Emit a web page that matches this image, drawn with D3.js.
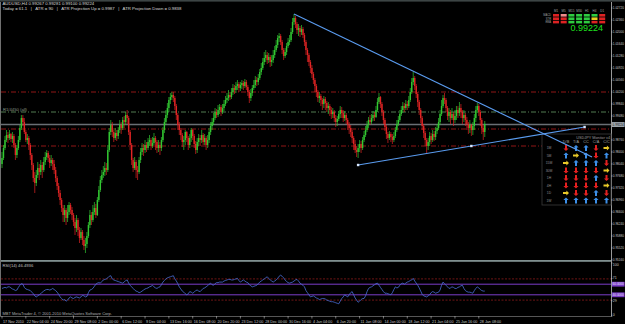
<!DOCTYPE html>
<html><head><meta charset="utf-8">
<script src="https://cdn.jsdelivr.net/npm/d3@7"></script>
<style>body{margin:0;background:#000}svg{display:block}</style>
</head><body>
<script>
// ---------- DATA (prices in 1/10000 units) ----------
const firstOpen = 9804;
const closePips = [
9822,9852,9876,9891,9882,9894,9879,9888,9861,9831,
9852,9876,9912,9942,9930,9900,9876,9882,9861,9831,
9801,9762,9747,9771,9792,9780,9801,9786,9810,9825,
9837,9822,9807,9816,9804,9786,9762,9738,9717,9696,
9672,9651,9666,9642,9660,9681,9666,9651,9630,9612,
9636,9606,9582,9600,9576,9558,9564,9588,9621,9651,
9636,9660,9672,9651,9696,9726,9756,9771,9780,9792,
9786,9846,9900,9921,9900,9882,9897,9888,9906,9921,
9912,9936,9930,9951,9942,9900,9861,9816,9792,9810,
9786,9780,9816,9840,9852,9846,9861,9852,9870,9876,
9858,9867,9882,9870,9852,9861,9852,9876,9906,9930,
9951,9972,9996,10005,10011,10002,9978,9951,9921,9906,
9891,9870,9876,9900,9882,9861,9882,9906,9888,9864,
9846,9870,9882,9876,9891,9870,9882,9861,9876,9900,
9918,9930,9942,9960,9951,9966,9975,9960,9972,9984,
9996,10002,10011,10005,10020,10032,10026,10038,10044,10032,
10041,10047,10038,10050,10035,10020,10002,10017,10032,10041,
10056,10050,10062,10080,10092,10110,10122,10131,10116,10125,
10110,10116,10131,10146,10161,10182,10188,10170,10146,10128,
10140,10158,10170,10176,10200,10230,10242,10224,10206,10212,
10200,10209,10191,10170,10146,10131,10110,10092,10074,10056,
10038,10020,10002,10008,9996,9984,9999,9987,9972,9978,
9966,9954,9960,9942,9930,9939,9954,9966,9957,9942,
9951,9936,9921,9912,9900,9882,9864,9846,9840,9852,
9864,9852,9876,9891,9906,9921,9936,9930,9942,9951,
9945,9966,9990,10005,9984,9960,9936,9915,9894,9882,
9894,9885,9876,9888,9906,9924,9936,9954,9966,9978,
9972,9984,9978,9996,10020,10050,10062,10038,10014,9990,
9966,9942,9918,9897,9876,9858,9870,9888,9876,9894,
9885,9903,9912,9930,9954,9978,10002,9996,9972,9948,
9960,9942,9954,9936,9948,9966,9957,9972,9960,9942,
9951,9936,9924,9912,9921,9906,9918,9942,9966,9978,
9960,9936,9912,9900,9924];
const highPips = [
9840,9861,9888,9906,9900,9906,9897,9900,9894,9867,
9861,9888,9921,9951,9951,9942,9906,9894,9888,9867,
9837,9807,9780,9786,9810,9804,9816,9810,9825,9840,
9846,9843,9831,9831,9822,9816,9795,9768,9747,9726,
9702,9681,9681,9672,9681,9690,9687,9675,9657,9642,
9651,9642,9615,9612,9606,9588,9582,9600,9630,9666,
9660,9681,9690,9684,9705,9738,9768,9786,9798,9810,
9807,9861,9912,9936,9930,9906,9912,9906,9915,9936,
9930,9945,9948,9960,9966,9948,9906,9867,9822,9825,
9816,9798,9825,9852,9867,9864,9876,9870,9882,9891,
9882,9885,9897,9888,9876,9876,9870,9885,9915,9942,
9966,9987,10005,10017,10020,10020,10008,9984,9957,9930,
9912,9897,9888,9906,9903,9888,9894,9912,9909,9894,
9873,9882,9894,9891,9906,9897,9894,9888,9891,9912,
9930,9942,9957,9972,9969,9981,9984,9981,9984,9996,
10008,10017,10026,10020,10032,10044,10041,10050,10056,10050,
10050,10056,10053,10059,10056,10041,10026,10029,10041,10056,
10068,10065,10074,10089,10107,10122,10140,10146,10140,10137,
10131,10131,10146,10158,10176,10191,10197,10194,10176,10152,
10152,10167,10182,10191,10212,10242,10254,10248,10230,10224,
10218,10221,10215,10197,10176,10152,10137,10116,10101,10080,
10062,10044,10026,10020,10014,10002,10008,10005,9993,9990,
9984,9975,9972,9966,9951,9948,9963,9978,9975,9966,
9963,9957,9942,9930,9921,9906,9888,9876,9858,9864,
9876,9873,9885,9903,9918,9933,9945,9951,9954,9963,
9960,9978,10002,10017,10008,9990,9966,9942,9921,9900,
9903,9900,9894,9900,9915,9936,9948,9966,9978,9990,
9987,9996,9993,10008,10032,10062,10080,10068,10044,10020,
9996,9972,9948,9924,9903,9882,9882,9900,9897,9906,
9903,9915,9924,9942,9966,9996,10011,10017,10002,9978,
9972,9966,9972,9960,9966,9978,9978,9990,9984,9966,
9966,9957,9945,9930,9936,9924,9930,9954,9978,9987,
9984,9966,9942,9921,9933];
const lowPips = [
9792,9816,9846,9870,9867,9876,9870,9867,9852,9816,
9822,9846,9870,9906,9918,9894,9870,9864,9846,9816,
9786,9750,9717,9738,9762,9756,9771,9762,9780,9801,
9816,9810,9792,9798,9786,9774,9750,9726,9705,9681,
9660,9630,9630,9621,9630,9651,9654,9636,9618,9591,
9600,9588,9567,9576,9561,9546,9537,9552,9582,9612,
9621,9630,9651,9642,9648,9690,9720,9747,9762,9768,
9771,9780,9840,9891,9885,9870,9876,9873,9879,9897,
9894,9906,9912,9921,9924,9891,9846,9801,9780,9786,
9762,9756,9774,9807,9831,9828,9837,9840,9846,9858,
9846,9852,9861,9846,9837,9840,9831,9843,9870,9897,
9921,9942,9960,9984,9996,9990,9966,9936,9906,9891,
9876,9855,9846,9861,9870,9846,9852,9870,9876,9852,
9834,9837,9858,9858,9867,9861,9861,9846,9852,9867,
9891,9906,9921,9936,9942,9945,9954,9948,9954,9963,
9978,9987,9993,9996,9999,10011,10014,10017,10026,10020,
10023,10029,10026,10032,10026,10008,9987,9993,10008,10026,
10032,10038,10041,10056,10071,10086,10101,10110,10104,10107,
10095,10098,10107,10122,10140,10152,10170,10161,10134,10116,
10122,10131,10152,10161,10170,10194,10221,10212,10194,10188,
10185,10191,10182,10158,10131,10110,10098,10077,10062,10044,
10020,10005,9990,9987,9978,9966,9972,9966,9960,9954,
9948,9939,9942,9930,9915,9918,9933,9942,9942,9930,
9933,9924,9906,9894,9885,9867,9846,9837,9825,9822,
9840,9837,9846,9870,9885,9900,9912,9921,9924,9933,
9933,9942,9960,9984,9972,9948,9924,9903,9879,9867,
9876,9870,9864,9870,9882,9900,9918,9930,9948,9957,
9960,9966,9966,9972,9990,10014,10041,10026,10002,9975,
9951,9927,9906,9882,9858,9837,9846,9858,9864,9870,
9873,9876,9894,9906,9921,9948,9972,9984,9960,9936,
9930,9924,9936,9918,9927,9936,9942,9948,9942,9924,
9930,9918,9906,9894,9897,9888,9891,9906,9930,9957,
9948,9918,9894,9876,9885];
const rsiValues = [
52,53,54,53,55,55,53,51,50,48,49,54,58,61,60,54,51,50,49,48,
45,42,38,36,38,40,42,45,47,49,50,50,49,50,52,50,48,45,41,36,
33,30,31,28,30,34,36,34,33,35,36,35,34,36,39,38,36,37,44,49,
50,52,56,60,62,63,62,65,68,69,70,72,75,76,70,68,67,66,65,64,
63,62,64,67,68,62,58,55,52,49,47,46,44,45,47,49,51,52,53,55,
56,58,55,53,52,54,55,59,64,67,70,72,73,74,75,76,70,66,61,55,
51,47,45,42,40,42,46,45,43,45,48,49,47,46,49,52,53,55,57,60,
62,59,58,61,63,63,64,64,64,66,67,68,69,69,68,68,69,70,71,67,
64,66,68,66,64,63,59,57,55,56,57,58,61,64,66,68,70,72,74,71,
68,66,64,66,68,71,75,77,75,72,68,65,63,62,63,64,66,68,69,66,
62,60,58,55,48,44,40,36,37,38,36,34,33,31,32,33,33,32,30,29,
28,27,27,26,25,24,23,28,33,36,40,38,36,40,44,46,40,34,30,26,
28,31,33,33,38,46,52,54,55,57,59,61,62,58,54,50,46,43,43,42,
41,40,44,50,55,53,54,58,61,62,60,62,64,65,67,68,71,66,62,58,
53,47,41,38,37,36,38,40,44,46,45,43,44,45,49,58,64,61,58,55,
52,53,55,54,52,52,54,55,57,58,52,48,46,45,45,44,43,48,52,55,
53,50,48,47,47];
const bidPrice = 0.99224;
const redLevels = [1.0020, 0.9909, 0.9858];
const greenLevel = 0.9960;
const upperTrend = [[196, 1.0254], [396, 0.9825]];
const lowerTrend = [[239, 0.9801], [391, 0.9915]];
const priceTicks = [1.0272,1.0236,1.0200,1.0164,1.0128,1.0092,1.0056,1.0020,0.9984,0.9948,0.9912,0.9876,0.9840,0.9804,0.9768,0.9732,0.9696,0.9660,0.9624,0.9588,0.9552,0.9516];
const timeLabels = ["17 Nov 2010","22 Nov 04:00","24 Nov 20:00","29 Nov 08:00","2 Dec 00:00","6 Dec 12:00","9 Dec 04:00","13 Dec 16:00","16 Dec 08:00","20 Dec 20:00","23 Dec 12:00","28 Dec 00:00","30 Dec 16:00","4 Jan 04:00","6 Jan 20:00","11 Jan 08:00","14 Jan 00:00","18 Jan 12:00","21 Jan 04:00","25 Jan 16:00","28 Jan 08:00"];
const labelStep = 16;
const rsiLevels = [70, 30];
const rsiBands = [60, 40];
const rsiTickLabels = ["100","71","29","0"];
const rsiTickValues = [100, 71, 29, 0];
const headerLine1 = "AUDUSD,H4  0.99267 0.99281 0.99100 0.99224";
const headerLine2 = "Today = 61.1   |   ATR = 90   |   ATR Projection Up = 0.9987   |   ATR Projection Down = 0.9838";
const levelLabel = "R1/4450 (all)";
const rsiLabel = "RSI(14) 46.4936";
const copyright = "MBT MetaTrader 4, © 2001-2010 MetaQuotes Software Corp.";
// top-right trend widget
const tfNames = ["M1","M5","M15","M30","H1","H4","D1"];
const widgetRows = ["MACD","STR","EMA"];
const widgetStates = [
  ["d","w","u","u","u","u","d"],
  ["d","d","u","u","u","n","d"],
  ["d","d","u","u","u","d","d"]];
// monitor table
const monCols = ["D/B","T/A","CC","C/A","C/C"];
const monRows = ["1M","5M","15M","30M","1H","4H","1D","1W"];
const monSignals = [
  ["d","u","u","d","r"],
  ["u","r","u","d","u"],
  ["r","u","u","u","d"],
  ["d","d","d","d","r"],
  ["d","d","d","u","d"],
  ["d","d","d","d","r"],
  ["r","d","d","u","d"],
  ["u","u","u","u","u"]];

// ---------- DRAW ----------
const W = 625, H = 324;
const svg = d3.select("body").append("svg").attr("width", W).attr("height", H)
  .style("font-family", "'Liberation Sans', Arial, sans-serif");
svg.append("rect").attr("width", W).attr("height", H).attr("fill", "#000");

const bars = closePips.map((c, i) => ({
  i, c: c / 1e4, h: highPips[i] / 1e4, l: lowPips[i] / 1e4,
  o: (i === 0 ? firstOpen : closePips[i - 1]) / 1e4
}));

const xS = d3.scaleLinear().domain([0, 400]).range([2, 598]);
const yS = d3.scaleLinear().domain([0.9516, 1.0290]).range([260, 2]);
const rS = d3.scaleLinear().domain([0, 100]).range([316, 263]);
const axisX = 611;

// frames
svg.append("rect").attr("x", 0).attr("y", 0).attr("width", W).attr("height", 1.6).attr("fill", "#3c4444");
svg.append("rect").attr("x", 0).attr("y", 260).attr("width", axisX).attr("height", 1.8).attr("fill", "#7f8f8f");
svg.append("line").attr("x1", 0.5).attr("x2", 0.5).attr("y1", 2).attr("y2", 316).attr("stroke", "#707070");
svg.append("line").attr("x1", axisX + 0.5).attr("x2", axisX + 0.5).attr("y1", 2).attr("y2", 316).attr("stroke", "#c0c0c0").attr("stroke-width", 0.8);
svg.append("line").attr("x1", 0).attr("x2", axisX + 1).attr("y1", 316.5).attr("y2", 316.5).attr("stroke", "#909090").attr("stroke-width", 0.6);

const main = svg.append("g");
// horizontal levels
const dashDot = "5,2,1,2";
redLevels.forEach(p => main.append("line").attr("x1", 1).attr("x2", axisX).attr("y1", yS(p)).attr("y2", yS(p))
  .attr("stroke", "#a01818").attr("stroke-width", 0.9).attr("stroke-dasharray", dashDot));
main.append("line").attr("x1", 1).attr("x2", axisX).attr("y1", yS(greenLevel)).attr("y2", yS(greenLevel))
  .attr("stroke", "#5c8a5c").attr("stroke-width", 0.9).attr("stroke-dasharray", dashDot);
main.append("text").attr("x", 3).attr("y", yS(greenLevel) - 1.5).attr("font-size", 4.2).attr("fill", "#8a9a8a").text(levelLabel);
main.append("line").attr("x1", 1).attr("x2", axisX).attr("y1", yS(bidPrice)).attr("y2", yS(bidPrice))
  .attr("stroke", "#6a6f74").attr("stroke-width", 1.6);

// candles
const bull = "#32c832", bear = "#e02424";
const cg = main.append("g");
cg.selectAll("line.w").data(bars).join("line").attr("class", "w")
  .attr("x1", d => xS(d.i)).attr("x2", d => xS(d.i))
  .attr("y1", d => yS(Math.max(d.h, d.o, d.c))).attr("y2", d => yS(Math.min(d.l, d.o, d.c)))
  .attr("stroke", d => d.c >= d.o ? bull : bear).attr("stroke-width", 0.7);
cg.selectAll("rect.b").data(bars).join("rect").attr("class", "b")
  .attr("x", d => xS(d.i) - 0.7).attr("width", 1.4)
  .attr("y", d => yS(Math.max(d.o, d.c))).attr("height", d => Math.max(0.6, Math.abs(yS(d.o) - yS(d.c))))
  .attr("fill", d => d.c >= d.o ? bull : bear);

// monitor table background
const tb = { x: 542, y: 134, w: 69, h: 71 };
svg.append("rect").attr("x", tb.x).attr("y", tb.y).attr("width", tb.w).attr("height", tb.h)
  .attr("fill", "#000").attr("stroke", "#3a3a3a").attr("stroke-width", 0.8);
svg.append("text").attr("x", 610).attr("y", 138.5).attr("text-anchor", "end").attr("font-size", 3.8).attr("fill", "#9a9a9a").text("USDJPY Monitor v4");
const colX = [566, 576, 586, 596, 606.5];
const rowY = d3.range(monRows.length).map(k => 148 + k * 7.5);
monCols.forEach((c, k) => svg.append("text").attr("x", colX[k]).attr("y", 143).attr("text-anchor", "middle").attr("font-size", 3.8).attr("fill", "#a0a0a0").text(c));
monRows.forEach((r, k) => svg.append("text").attr("x", 549).attr("y", rowY[k] + 1.3).attr("text-anchor", "middle").attr("font-size", 3.4).attr("fill", "#909090").text(r));
const arrowCol = { u: "#3d8fe8", d: "#e42020", r: "#e8c828" };
const arrowPath = {
  u: "M0,-3 L2.6,-0.4 L1,-0.4 L1,3 L-1,3 L-1,-0.4 L-2.6,-0.4 Z",
  d: "M0,3 L2.6,0.4 L1,0.4 L1,-3 L-1,-3 L-1,0.4 L-2.6,0.4 Z",
  r: "M3,0 L0.4,-2.6 L0.4,-1 L-3,-1 L-3,1 L0.4,1 L0.4,2.6 Z"
};
monSignals.forEach((row, r) => row.forEach((s, c) =>
  svg.append("path").attr("d", arrowPath[s]).attr("transform", `translate(${colX[c]},${rowY[r]})`).attr("fill", arrowCol[s])));

// trend lines
const tl = svg.append("g");
[upperTrend, lowerTrend].forEach(t => tl.append("line")
  .attr("x1", xS(t[0][0])).attr("y1", yS(t[0][1])).attr("x2", xS(t[1][0])).attr("y2", yS(t[1][1]))
  .attr("stroke", "#5a9cf0").attr("stroke-width", 1.1));
const mid = [(lowerTrend[0][0] + lowerTrend[1][0]) / 2, (lowerTrend[0][1] + lowerTrend[1][1]) / 2];
[lowerTrend[0], mid, lowerTrend[1]].forEach(p => tl.append("rect")
  .attr("x", xS(p[0]) - 1.2).attr("y", yS(p[1]) - 1.2).attr("width", 2.4).attr("height", 2.4).attr("fill", "#d8e8ff"));

// price axis
const axFont = 3.1;
const axG = svg.append("g");
priceTicks.forEach(p => {
  const y = yS(p);
  if (Math.abs(y - yS(bidPrice)) < 6) return;
  axG.append("line").attr("x1", axisX).attr("x2", axisX + 1.5).attr("y1", y).attr("y2", y).attr("stroke", "#c0c0c0").attr("stroke-width", 0.6);
  axG.append("text").attr("x", axisX + 1.8).attr("y", Math.min(y + 1.1, 260.5)).attr("font-size", axFont)
    .attr("fill", "#c8c8c8").text(p.toFixed(5));
});
const by = yS(bidPrice);
axG.append("rect").attr("x", axisX + 1).attr("y", by - 2.4).attr("width", 12.6).attr("height", 4.8).attr("fill", "#a8b0b8");
axG.append("text").attr("x", axisX + 1.6).attr("y", by + 1.1).attr("font-size", axFont)
  .attr("fill", "#000").text(bidPrice.toFixed(5));

// header texts
svg.append("text").attr("x", 2.5).attr("y", 5).attr("font-size", 4.3).attr("fill", "#d8d8d8").text(headerLine1);
svg.append("text").attr("x", 2.5).attr("y", 10).attr("font-size", 4.3).attr("fill", "#d8d8d8").style("white-space", "pre").text(headerLine2);

// top-right widget
const wColX = d3.range(7).map(k => 553 + k * 7.7);
const stateCol = { u: "#2ecc40", d: "#dd2222", w: "#f08a8a", n: "#e8d020" };
tfNames.forEach((t, k) => svg.append("text").attr("x", wColX[k] + 3).attr("y", 12.2).attr("text-anchor", "middle").attr("font-size", 3).attr("fill", "#a0a0a0").text(t));
widgetRows.forEach((r, k) => svg.append("text").attr("x", 551).attr("y", 16.3 + k * 3.4).attr("text-anchor", "end").attr("font-size", 2.6).attr("fill", "#a0a0a0").text(r));
widgetStates.forEach((row, r) => row.forEach((s, c) => svg.append("rect")
  .attr("x", wColX[c]).attr("y", 14 + r * 3.4).attr("width", 6).attr("height", 2.6).attr("fill", stateCol[s])));
svg.append("text").attr("x", 603).attr("y", 31).attr("text-anchor", "end").attr("font-size", 9).attr("fill", "#1fe01f").text(bidPrice.toFixed(5));

// RSI panel
const rg = svg.append("g");
rsiLevels.forEach(v => rg.append("line").attr("x1", 1).attr("x2", axisX).attr("y1", rS(v)).attr("y2", rS(v))
  .attr("stroke", "#8a1a1a").attr("stroke-width", 0.8).attr("stroke-dasharray", "2,1.5"));
rsiBands.forEach(v => rg.append("line").attr("x1", 1).attr("x2", axisX).attr("y1", rS(v)).attr("y2", rS(v))
  .attr("stroke", "#7a3cc8").attr("stroke-width", 1));
rg.append("path").datum(rsiValues).attr("fill", "none").attr("stroke", "#4a6ed8").attr("stroke-width", 0.8)
  .attr("d", d3.line().x((d, i) => xS(i)).y(d => rS(d)));
rg.append("text").attr("x", 2.5).attr("y", 267).attr("font-size", 4.2).attr("fill", "#c0c0c0").text(rsiLabel);
rg.append("text").attr("x", 2.5).attr("y", 315).attr("font-size", 4).attr("fill", "#b0b0b0").text(copyright);
rsiTickValues.forEach((v, k) => {
  const ty = v === 100 ? 266 : (v === 0 ? 315.5 : rS(v) + 1.1);
  rg.append("line").attr("x1", axisX).attr("x2", axisX + 1.5).attr("y1", rS(v)).attr("y2", rS(v)).attr("stroke", "#c0c0c0").attr("stroke-width", 0.6);
  rg.append("text").attr("x", axisX + 1.8).attr("y", ty).attr("font-size", 3.6).attr("fill", "#c8c8c8").text(rsiTickLabels[k]);
});
rsiBands.forEach(v => {
  rg.append("rect").attr("x", axisX + 1).attr("y", rS(v) - 2.4).attr("width", 12.6).attr("height", 4.8).attr("fill", "#7a3cc8");
  rg.append("text").attr("x", axisX + 1.6).attr("y", rS(v) + 1.1).attr("font-size", axFont)
    .attr("fill", "#ece4fa").text(v.toFixed(4));
});

// time axis
timeLabels.forEach((t, k) => {
  const x = xS(k * labelStep);
  svg.append("line").attr("x1", x).attr("x2", x).attr("y1", 316).attr("y2", 318.5).attr("stroke", "#c0c0c0").attr("stroke-width", 0.6);
  svg.append("text").attr("x", x + 1).attr("y", 322.5).attr("font-size", 3.7).attr("fill", "#c8c8c8").text(t);
});
</script>
</body></html>
